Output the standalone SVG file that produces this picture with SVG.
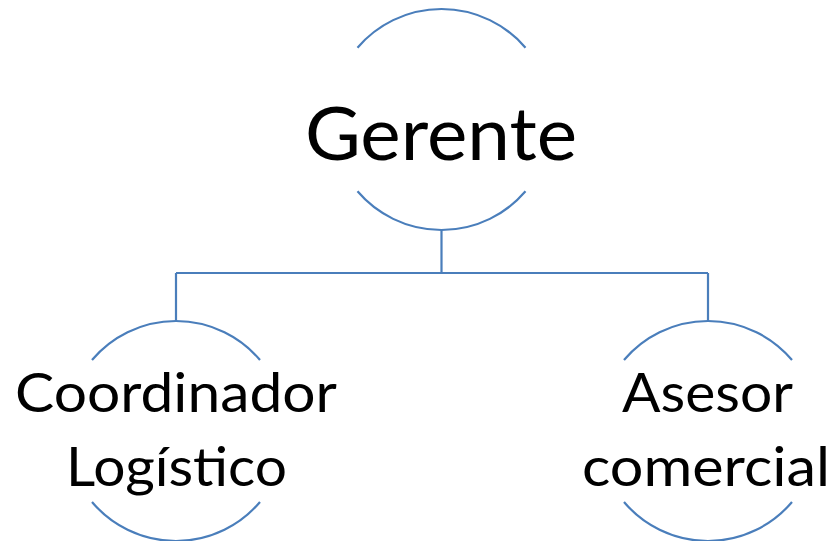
<svg xmlns="http://www.w3.org/2000/svg" width="835" height="541" viewBox="0 0 835 541">
<style>
.arc{fill:none;stroke:#4a7ebb;stroke-width:2.2}
.conn{fill:none;stroke:#4a7ebb;stroke-width:2.2}
.lbl{font-family:Lato,"Open Sans","Liberation Sans",sans-serif;fill:#000;text-anchor:middle}
.big{font-size:74px}
.small{font-size:55px}
</style>
<rect width="835" height="541" fill="#fff"/>
<g id="connectors">
<path class="conn" d="M441.5,230 V273 M176,273 H708 M176,273 V321 M708,273 V321"/>
</g>
<g id="gerente">
<path class="arc" d="M357.5,47.7 A110.5,110.5 0 0 1 525.5,47.7"/>
<path class="arc" d="M357.5,191.3 A110.5,110.5 0 0 0 525.5,191.3"/>
<text class="lbl big" x="441" y="160" textLength="272" lengthAdjust="spacingAndGlyphs">Gerente</text>
</g>
<g id="coordinador">
<path class="arc" d="M92,360 A110,110 0 0 1 260,360"/>
<path class="arc" d="M92,502 A110,110 0 0 0 260,502"/>
<text class="lbl small" x="176" y="412" textLength="322" lengthAdjust="spacingAndGlyphs">Coordinador</text>
<text class="lbl small" x="176.5" y="486" textLength="221" lengthAdjust="spacingAndGlyphs">Logístico</text>
</g>
<g id="asesor">
<path class="arc" d="M624,360 A110,110 0 0 1 792,360"/>
<path class="arc" d="M624,502 A110,110 0 0 0 792,502"/>
<text class="lbl small" x="707.5" y="412" textLength="171" lengthAdjust="spacingAndGlyphs">Asesor</text>
<text class="lbl small" x="706" y="486" textLength="248" lengthAdjust="spacingAndGlyphs">comercial</text>
</g>
</svg>
